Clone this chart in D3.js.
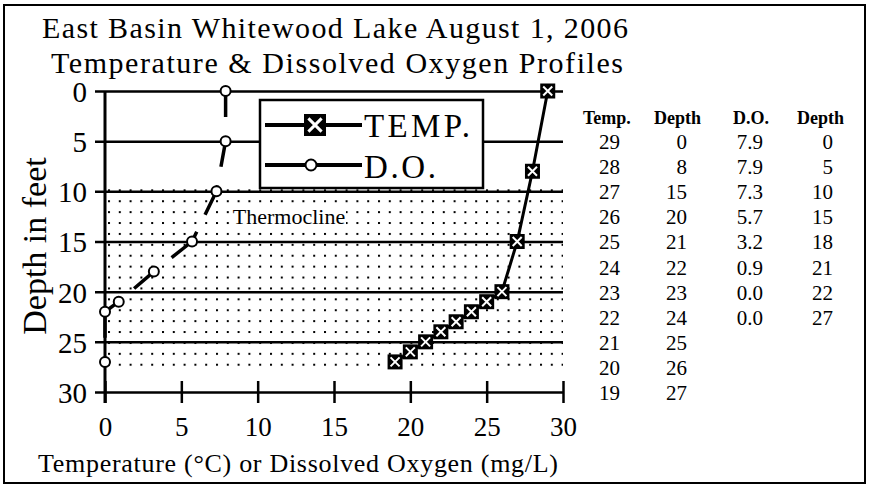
<!DOCTYPE html>
<html>
<head>
<meta charset="utf-8">
<script src="https://cdn.jsdelivr.net/npm/d3@7"></script>
<style>
  body { margin: 0; background: #fff; }
  svg text { font-family: "Liberation Serif", "DejaVu Serif", "Times New Roman", Times, serif; fill: #000; }
</style>
</head>
<body>
<div id="chart"></div>
<script>
const tempVals = [29, 28, 27, 26, 25, 24, 23, 22, 21, 20, 19];
const tempDepths = [0, 8, 15, 20, 21, 22, 23, 24, 25, 26, 27];
const doVals = [7.9, 7.9, 7.3, 5.7, 3.2, 0.9, 0.0, 0.0];
const doDepths = [0, 5, 10, 15, 18, 21, 22, 27];
const xTicks = [0, 5, 10, 15, 20, 25, 30];
const yTicks = [0, 5, 10, 15, 20, 25, 30];
const thermocline = [10, 27.5];

// formatting constants
const width = 869;
const height = 487;
const plot = {left: 105, right: 563, top: 91, bottom: 392};
const serif = "'Liberation Serif', 'DejaVu Serif', 'Times New Roman', Times, serif";

const svg = d3.select("#chart")
    .append("svg")
        .attr("width", width)
        .attr("height", height)
        .style("font-family", serif);

// outer frame
svg.append("rect")
    .attr("x", 4).attr("y", 5)
    .attr("width", width - 8).attr("height", height - 9)
    .attr("fill", "none")
    .attr("stroke", "#000")
    .attr("stroke-width", 2);

const x = d3.scaleLinear().domain([0, 30]).range([plot.left, plot.right]);
const y = d3.scaleLinear().domain([0, 30]).range([plot.top, plot.bottom]);

// dotted thermocline band
const defs = svg.append("defs");
const pat = defs.append("pattern")
    .attr("id", "dots")
    .attr("patternUnits", "userSpaceOnUse")
    .attr("x", plot.left + 3).attr("y", y(thermocline[0]) - 2)
    .attr("width", 10.8).attr("height", 10.9);
pat.append("rect")
    .attr("x", 0).attr("y", 0)
    .attr("width", 2).attr("height", 2)
    .attr("fill", "#000");

svg.append("rect")
    .attr("x", x(0))
    .attr("y", y(thermocline[0]) - 3)
    .attr("width", x(30) - x(0))
    .attr("height", y(thermocline[1]) - y(thermocline[0]) + 3)
    .attr("fill", "url(#dots)");

// label for the band
svg.append("rect")
    .attr("x", 232).attr("y", 203)
    .attr("width", 114).attr("height", 27)
    .attr("fill", "#fff");
svg.append("text")
    .attr("x", 289).attr("y", 224)
    .attr("text-anchor", "middle")
    .attr("font-size", 22)
    .text("Thermocline");

// horizontal grid lines, drawn as long left ticks
svg.append("g")
    .attr("transform", `translate(${plot.right}, 0)`)
    .call(d3.axisLeft(y).tickValues(yTicks).tickSize(plot.right - 95).tickPadding(8))
    .call(g => g.attr("font-family", null).attr("font-size", null))
    .call(g => g.select(".domain").remove())
    .call(g => g.selectAll("line").attr("stroke", "#000").attr("stroke-width", 2.5))
    .call(g => g.selectAll("text")
        .attr("font-size", 29)
        .attr("dy", "0.36em"));

// x axis
svg.append("g")
    .attr("transform", `translate(0, ${plot.bottom})`)
    .call(d3.axisBottom(x).tickValues(xTicks).tickSize(11).tickPadding(14))
    .call(g => g.attr("font-family", null).attr("font-size", null))
    .call(g => g.select(".domain").remove())
    .call(g => g.selectAll("line").attr("y1", -11).attr("stroke", "#000").attr("stroke-width", 2.5))
    .call(g => g.selectAll("text")
        .attr("font-size", 27)
        .attr("dy", "0.71em"));

// y axis line
svg.append("line")
    .attr("x1", plot.left).attr("x2", plot.left)
    .attr("y1", plot.top).attr("y2", plot.bottom + 11)
    .attr("stroke", "#000").attr("stroke-width", 3);

// axis titles
svg.append("text")
    .attr("transform", "translate(46, 246) rotate(-90)")
    .attr("text-anchor", "middle")
    .attr("font-size", 34)
    .text("Depth in feet");

svg.append("text")
    .attr("x", 298).attr("y", 472)
    .attr("text-anchor", "middle")
    .attr("font-size", 26)
    .attr("textLength", 520)
    .text("Temperature (\u00B0C) or Dissolved Oxygen (mg/L)");

// titles
svg.append("text")
    .attr("x", 335).attr("y", 38)
    .attr("text-anchor", "middle")
    .attr("font-size", 30)
    .attr("textLength", 586)
    .text("East Basin Whitewood Lake August 1, 2006");
svg.append("text")
    .attr("x", 337).attr("y", 73)
    .attr("text-anchor", "middle")
    .attr("font-size", 30)
    .attr("textLength", 572)
    .text("Temperature & Dissolved Oxygen Profiles");

// D.O. profile: each leg dashed from its own start point
const doData = doVals.map((v, i) => ({v: v, d: doDepths[i]}));
const tempData = tempVals.map((v, i) => ({v: v, d: tempDepths[i]}));
const line = d3.line().x(it => x(it.v)).y(it => y(it.d));

svg.append("g")
    .selectAll("path")
    .data(d3.pairs(doData))
    .join("path")
        .attr("d", line)
        .attr("fill", "none")
        .attr("stroke", "#000")
        .attr("stroke-width", 3.5)
        .attr("stroke-dasharray", "26,19");

svg.append("path")
    .datum(tempData)
    .attr("d", line)
    .attr("fill", "none")
    .attr("stroke", "#000")
    .attr("stroke-width", 3);

// markers
svg.append("g")
    .selectAll("circle")
    .data(doData)
    .join("circle")
        .attr("cx", it => x(it.v))
        .attr("cy", it => y(it.d))
        .attr("r", 5)
        .attr("fill", "#fff")
        .attr("stroke", "#000")
        .attr("stroke-width", 2);

svg.append("g")
    .selectAll("g")
    .data(tempData)
    .join("g")
        .attr("transform", it => `translate(${x(it.v)}, ${y(it.d)})`)
        .each(function() { drawBoxX(d3.select(this)); });

// legend
const legend = svg.append("g");
legend.append("rect")
    .attr("x", 260).attr("y", 100)
    .attr("width", 223).attr("height", 88)
    .attr("fill", "#fff")
    .attr("stroke", "#000")
    .attr("stroke-width", 2.5);
legend.append("line")
    .attr("x1", 265).attr("x2", 362).attr("y1", 125).attr("y2", 125)
    .attr("stroke", "#000").attr("stroke-width", 4);
drawBoxX(legend.append("g").attr("transform", "translate(315, 125)"), 22);
legend.append("text")
    .attr("x", 364).attr("y", 137)
    .attr("font-size", 33)
    .attr("textLength", 106)
    .text("TEMP.");
legend.append("line")
    .attr("x1", 265).attr("x2", 362).attr("y1", 165).attr("y2", 165)
    .attr("stroke", "#000").attr("stroke-width", 4);
legend.append("circle")
    .attr("cx", 311).attr("cy", 165).attr("r", 5.5)
    .attr("fill", "#fff").attr("stroke", "#000").attr("stroke-width", 2);
legend.append("text")
    .attr("x", 364).attr("y", 178)
    .attr("font-size", 33)
    .attr("textLength", 72)
    .text("D.O.");

// data table on the right
const headers = [
    {label: "Temp.", x: 583},
    {label: "Depth", x: 654},
    {label: "D.O.", x: 733},
    {label: "Depth", x: 797}
];
const table = svg.append("g").attr("font-size", 21);
table.selectAll("text.head")
    .data(headers)
    .join("text")
        .attr("class", "head")
        .attr("x", it => it.x)
        .attr("y", 124)
        .attr("font-size", 18)
        .attr("font-weight", "bold")
        .text(it => it.label);

const columns = [
    {values: tempVals.map(String), right: 620},
    {values: tempDepths.map(String), right: 687},
    {values: doVals.map(v => v.toFixed(1)), right: 763},
    {values: doDepths.map(String), right: 833}
];
columns.forEach(col => {
    table.append("g")
        .selectAll("text")
        .data(col.values)
        .join("text")
            .attr("x", col.right)
            .attr("y", (it, i) => 149 + i * 25.1)
            .attr("text-anchor", "end")
            .text(it => it);
});

/** HELPER FUNCTIONS */

/** Black square with a white X, the temperature marker. */
function drawBoxX(g, size = 15) {
    const h = size / 2;
    const k = h * 0.6;
    g.append("rect")
        .attr("x", -h).attr("y", -h)
        .attr("width", size).attr("height", size)
        .attr("fill", "#000");
    g.append("path")
        .attr("d", `M${-k},${-k}L${k},${k}M${-k},${k}L${k},${-k}`)
        .attr("stroke", "#fff")
        .attr("stroke-width", size > 18 ? 3 : 2);
}
</script>
</body>
</html>
